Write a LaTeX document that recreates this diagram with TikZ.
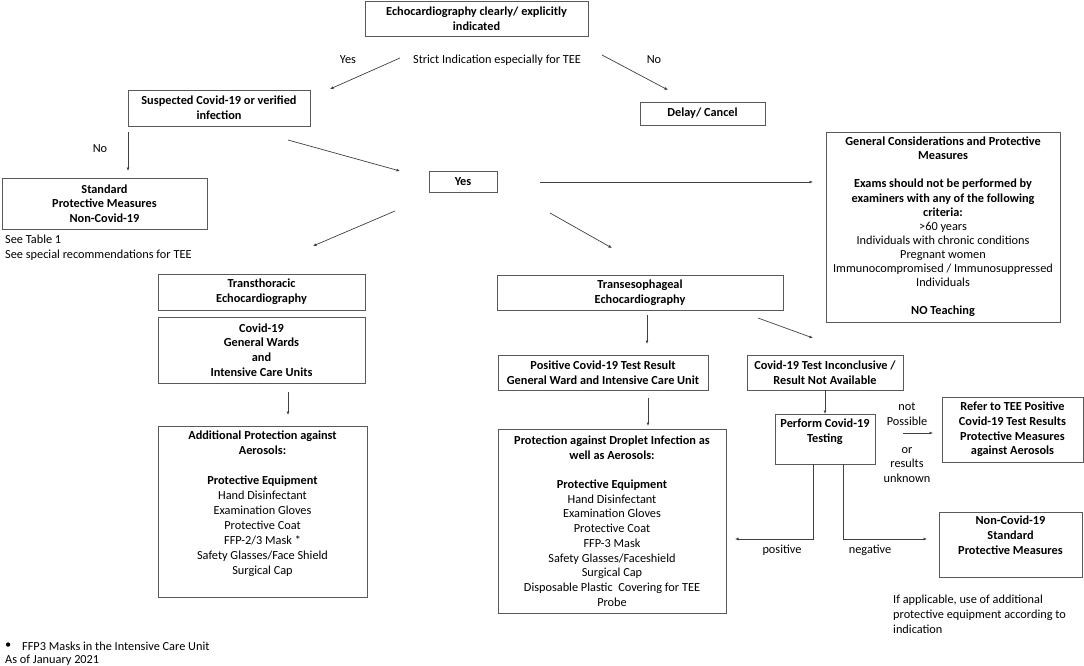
\documentclass[tikz,border=0pt]{standalone}
\usepackage{fontspec}
\setmainfont{Carlito}
\usetikzlibrary{arrows.meta}
\definecolor{linec}{HTML}{404040}
\definecolor{boxc}{HTML}{595959}
\begin{document}
\begin{tikzpicture}[x=1pt,y=-1pt,
  every node/.style={font=\fontsize{12.3}{14.7}\selectfont, inner sep=1pt},
  box/.style={draw=boxc, line width=0.8pt, align=center, inner sep=2pt},
  txt/.style={align=center},
  arr/.style={draw=linec, line width=0.7pt, -{Latex[length=3.5pt,width=3pt]}},
  ln/.style={draw=linec, line width=0.7pt}]
\useasboundingbox (0,0) rectangle (1084,666);
\fill[white] (0,0) rectangle (1084,666);

% boxes
\node[box, minimum width=223pt, minimum height=35pt] (top) at (476.5,18.5) {\bfseries Echocardiography clearly/ explicitly\\\bfseries indicated};
\node[txt] (strict) at (497,60) {Strict Indication especially for TEE};
\node[txt] (yes1) at (348,60) {Yes};
\node[txt] (no1) at (654,60) {No};
\node[box, minimum width=125pt, minimum height=23pt] (delay) at (702.5,113.5) {\bfseries Delay/ Cancel};

\node[box, minimum width=182pt, minimum height=36pt] (susp) at (219,108) {\bfseries Suspected Covid-19 or verified\\\bfseries infection};
\node[txt] (no2) at (100,149) {No};
\node[box, minimum width=205pt, minimum height=51pt] (std) at (104.5,203.5) {\bfseries Standard\\\bfseries Protective Measures\\\bfseries Non-Covid-19};
\node[align=left, anchor=north west] (seet) at (4,234) {See Table 1\\See special recommendations for TEE};

\node[box, minimum width=68pt, minimum height=21pt] (yesb) at (463,181.5) {\bfseries Yes};

\node[box, minimum width=234pt, minimum height=190pt, font=\fontsize{12.3}{14.1}\selectfont] (gen) at (943,227) {\bfseries General Considerations and Protective\\\bfseries Measures\\[14.1pt]\bfseries Exams should not be performed by\\\bfseries examiners with any of the following\\\bfseries criteria:\\>60 years\\Individuals with chronic conditions\\Pregnant women\\Immunocompromised / Immunosuppressed\\Individuals\\[14.1pt]\bfseries NO Teaching};

\node[box, minimum width=207pt, minimum height=36pt] (tte) at (261.5,292) {\bfseries Transthoracic\\\bfseries Echocardiography};
\node[box, minimum width=207pt, minimum height=66pt] (wards) at (261.5,350) {\bfseries Covid-19\\\bfseries General Wards\\\bfseries and\\\bfseries Intensive Care Units};
\node[box, minimum width=209pt, minimum height=171pt, anchor=north] (addl) at (262.5,426) {};
\node[txt, anchor=north, font=\fontsize{12.3}{15}\selectfont] (addlt) at (262.5,430) {\bfseries Additional Protection against\\\bfseries Aerosols:\\[15pt]\bfseries Protective Equipment\\Hand Disinfectant\\Examination Gloves\\Protective Coat\\FFP-2/3 Mask *\\Safety Glasses/Face Shield\\Surgical Cap};

\node[box, minimum width=286pt, minimum height=35pt] (tee) at (640,292.5) {\bfseries Transesophageal\\\bfseries Echocardiography};
\node[box, minimum width=210pt, minimum height=35pt] (pos) at (603,372.5) {\bfseries Positive Covid-19 Test Result\\\bfseries General Ward and Intensive Care Unit};
\node[box, minimum width=228pt, minimum height=184pt] (prot) at (612,521) {\bfseries Protection against Droplet Infection as\\\bfseries well as Aerosols:\\[14.7pt]\bfseries Protective Equipment\\Hand Disinfectant\\Examination Gloves\\Protective Coat\\FFP-3 Mask\\Safety Glasses/Faceshield\\Surgical Cap\\Disposable Plastic\ \ Covering for TEE\\Probe};

\node[box, minimum width=156pt, minimum height=35pt] (incon) at (825,372.5) {\bfseries Covid-19 Test Inconclusive /\\\bfseries Result Not Available};
\node[box, minimum width=100pt, minimum height=50pt, anchor=north] (perf) at (825,414) {};
\node[txt, anchor=north] (perft) at (825,418) {\bfseries Perform Covid-19\\\bfseries Testing};

\node[txt] (notp) at (907,414) {not\\Possible};
\node[txt] (orr) at (907,465) {or\\results\\unknown};
\node[box, minimum width=141pt, minimum height=65pt] (refer) at (1012.5,429.5) {\bfseries Refer to TEE Positive\\\bfseries Covid-19 Test Results\\\bfseries Protective Measures\\\bfseries against Aerosols};
\node[box, minimum width=143pt, minimum height=65pt, anchor=north] (nonc) at (1010.5,512) {};
\node[txt, anchor=north] (nonct) at (1010.5,515) {\bfseries Non-Covid-19\\\bfseries Standard\\\bfseries Protective Measures};

\node[txt] (posl) at (782,550) {positive};
\node[txt] (negl) at (870,550) {negative};
\node[align=left, anchor=north west] (ifap) at (892,594) {If applicable, use of additional\\protective equipment according to\\indication};

\node[anchor=west] (bul) at (4,646) {\textbullet};
\node[anchor=west] (ffp) at (21,646) {FFP3 Masks in the Intensive Care Unit};
\node[anchor=west] (asof) at (4,660) {As of January 2021};

% coordinates for free-standing arrows
\coordinate (a1s) at (400,58); \coordinate (a1e) at (330,89);
\coordinate (a2s) at (602,55); \coordinate (a2e) at (668,90);
\coordinate (a3s) at (128,132); \coordinate (a3e) at (128,171);
\coordinate (a4s) at (288,140); \coordinate (a4e) at (400,171);
\coordinate (a5s) at (540,182); \coordinate (a5e) at (813,182);
\coordinate (a6s) at (395,211); \coordinate (a6e) at (313,246);
\coordinate (a7s) at (550,213); \coordinate (a7e) at (612,248);
\coordinate (a8s) at (647,315); \coordinate (a8e) at (647,344);
\coordinate (a9s) at (758,318); \coordinate (a9e) at (813,338);
\coordinate (a10s) at (288,392); \coordinate (a10e) at (288,415);
\coordinate (a11s) at (648,398); \coordinate (a11e) at (648,426);
\coordinate (a13s) at (903,433); \coordinate (a13e) at (933,433);
\coordinate (p1) at (813,464); \coordinate (p2) at (813,539); \coordinate (p3) at (735,539);
\coordinate (n1) at (843,464); \coordinate (n2) at (843,539); \coordinate (n3) at (927,539);

\draw[arr] (a1s) -- (a1e);
\draw[arr] (a2s) -- (a2e);
\draw[arr] (a3s) -- (a3e);
\draw[arr] (a4s) -- (a4e);
\draw[arr] (a5s) -- (a5e);
\draw[arr] (a6s) -- (a6e);
\draw[arr] (a7s) -- (a7e);
\draw[arr] (a8s) -- (a8e);
\draw[arr] (a9s) -- (a9e);
\draw[arr] (a10s) -- (a10e);
\draw[arr] (a11s) -- (a11e);
\draw[arr] (incon.south) -- (perf.north);
\draw[arr] (a13s) -- (a13e);
\draw[arr] (p1) -- (p2) -- (p3);
\draw[arr] (n1) -- (n2) -- (n3);
\end{tikzpicture}
\end{document}
